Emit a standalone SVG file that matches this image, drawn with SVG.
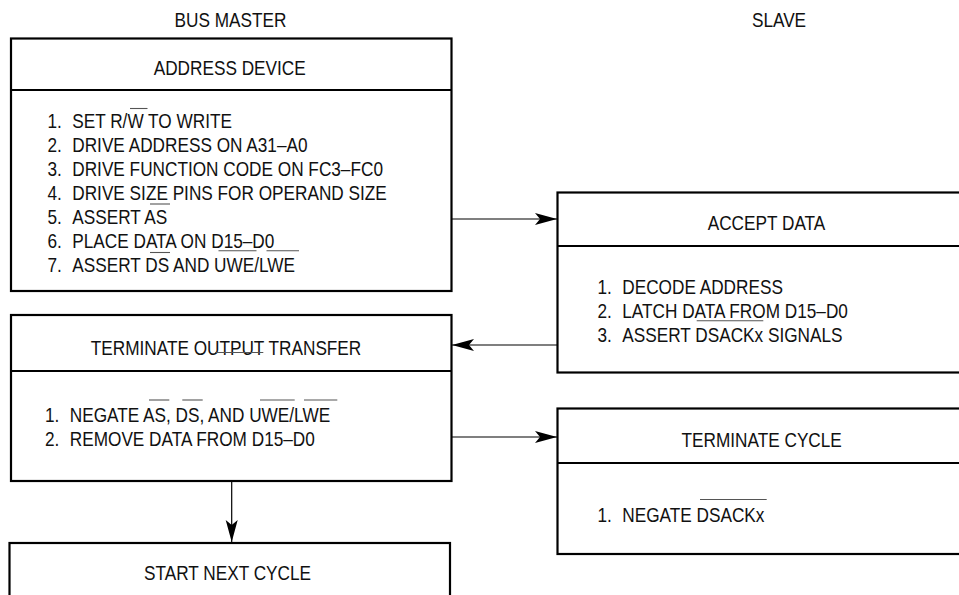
<svg xmlns="http://www.w3.org/2000/svg" width="959" height="595" viewBox="0 0 959 595">
<style>
.box{fill:#fff;stroke:#000;stroke-width:2.2}
.div{stroke:#000;stroke-width:2.2}
text{font-family:"Liberation Sans",Arial,Helvetica,sans-serif;font-size:21px;fill:#111}
.c{text-anchor:middle}
.ov{stroke:#555;stroke-width:1.1;fill:none}
.con{stroke:#000;stroke-width:1.2;fill:none}
</style>
<defs>
<marker id="ah" markerUnits="userSpaceOnUse" viewBox="-23 -7 24 14" refX="0" refY="0" markerWidth="24" markerHeight="14" orient="auto">
<path d="M0,0 L-22,-6 L-17,0 L-22,6 Z" fill="#000"/>
</marker>
</defs>
<rect width="959" height="595" fill="#fff"/>

<g id="labels">
<text class="c" transform="translate(230.5,27) scale(0.82,1)">BUS MASTER</text>
<text class="c" transform="translate(779,27) scale(0.82,1)">SLAVE</text>
</g>

<g id="connectors">
<line class="con" x1="452" y1="219" x2="557" y2="219" marker-end="url(#ah)"/>
<line class="con" x1="557.5" y1="345" x2="452" y2="345" marker-end="url(#ah)"/>
<line class="con" x1="452" y1="437" x2="557" y2="437" marker-end="url(#ah)"/>
<line class="con" x1="231.7" y1="481" x2="231.7" y2="542" marker-end="url(#ah)"/>
</g>

<g id="address-device">
<rect class="box" x="11" y="38.5" width="440.5" height="252.5"/>
<line class="div" x1="11" y1="90" x2="451.5" y2="90"/>
<text class="c" transform="translate(229.7,75) scale(0.82,1)">ADDRESS DEVICE</text>
<text transform="translate(47.5,128.3) scale(0.82,1)"><tspan x="0">1.</tspan><tspan x="30.2">SET R/W TO WRITE</tspan></text>
<text transform="translate(47.5,152.3) scale(0.82,1)"><tspan x="0">2.</tspan><tspan x="30.2">DRIVE ADDRESS ON A31–A0</tspan></text>
<text transform="translate(47.5,176.3) scale(0.82,1)"><tspan x="0">3.</tspan><tspan x="30.2">DRIVE FUNCTION CODE ON FC3–FC0</tspan></text>
<text transform="translate(47.5,200.3) scale(0.82,1)"><tspan x="0">4.</tspan><tspan x="30.2">DRIVE SIZE PINS FOR OPERAND SIZE</tspan></text>
<text transform="translate(47.5,224.3) scale(0.82,1)"><tspan x="0">5.</tspan><tspan x="30.2">ASSERT AS</tspan></text>
<text transform="translate(47.5,248.3) scale(0.82,1)"><tspan x="0">6.</tspan><tspan x="30.2">PLACE DATA ON D15–D0</tspan></text>
<text transform="translate(47.5,272.3) scale(0.82,1)"><tspan x="0">7.</tspan><tspan x="30.2">ASSERT DS AND UWE/LWE</tspan></text>
<line class="ov" x1="130" y1="108.5" x2="147.5" y2="108.5"/>
<line class="ov" x1="150" y1="204" x2="170" y2="204"/>
<line class="ov" x1="150" y1="252.5" x2="170" y2="252.5"/>
<line class="ov" x1="218.5" y1="250.8" x2="256.5" y2="250.8"/>
<line class="ov" x1="266.5" y1="250.8" x2="299" y2="250.8"/>
</g>

<g id="accept-data">
<rect class="box" x="557.5" y="192.5" width="420" height="180"/>
<line class="div" x1="557.5" y1="246" x2="977.5" y2="246"/>
<text class="c" transform="translate(766.5,230) scale(0.82,1)">ACCEPT DATA</text>
<text transform="translate(597.5,294) scale(0.82,1)"><tspan x="0">1.</tspan><tspan x="30.2">DECODE ADDRESS</tspan></text>
<text transform="translate(597.5,318) scale(0.82,1)"><tspan x="0">2.</tspan><tspan x="30.2">LATCH DATA FROM D15–D0</tspan></text>
<text transform="translate(597.5,342) scale(0.82,1)"><tspan x="0">3.</tspan><tspan x="30.2">ASSERT DSACKx SIGNALS</tspan></text>
<line class="ov" x1="696.7" y1="320.8" x2="763.3" y2="320.8"/>
</g>

<g id="terminate-output-transfer">
<rect class="box" x="11" y="315" width="440.5" height="166"/>
<line class="div" x1="11" y1="371" x2="451.5" y2="371"/>
<text class="c" transform="translate(226,355) scale(0.82,1)">TERMINATE OUTPUT TRANSFER</text>
<text transform="translate(45,421.7) scale(0.82,1)"><tspan x="0">1.</tspan><tspan x="30.2">NEGATE AS, DS, AND UWE/LWE</tspan></text>
<text transform="translate(45,445.7) scale(0.82,1)"><tspan x="0">2.</tspan><tspan x="30.2">REMOVE DATA FROM D15–D0</tspan></text>
<line class="ov" x1="215" y1="352.5" x2="263.3" y2="352.5"/>
<line class="ov" x1="149" y1="400" x2="169.3" y2="400"/>
<line class="ov" x1="182.3" y1="400" x2="202.7" y2="400"/>
<line class="ov" x1="260" y1="400" x2="294.7" y2="400"/>
<line class="ov" x1="304" y1="400" x2="337.3" y2="400"/>
</g>

<g id="terminate-cycle">
<rect class="box" x="557.5" y="408.5" width="420" height="145.5"/>
<line class="div" x1="557.5" y1="463" x2="977.5" y2="463"/>
<text class="c" transform="translate(761.7,446.7) scale(0.82,1)">TERMINATE CYCLE</text>
<text transform="translate(597.5,521.7) scale(0.82,1)"><tspan x="0">1.</tspan><tspan x="30.2">NEGATE DSACKx</tspan></text>
<line class="ov" x1="700" y1="499.5" x2="766.7" y2="499.5"/>
</g>

<g id="start-next-cycle">
<rect class="box" x="9.5" y="543" width="440.5" height="70"/>
<text class="c" transform="translate(227.5,580) scale(0.82,1)">START NEXT CYCLE</text>
</g>
</svg>
